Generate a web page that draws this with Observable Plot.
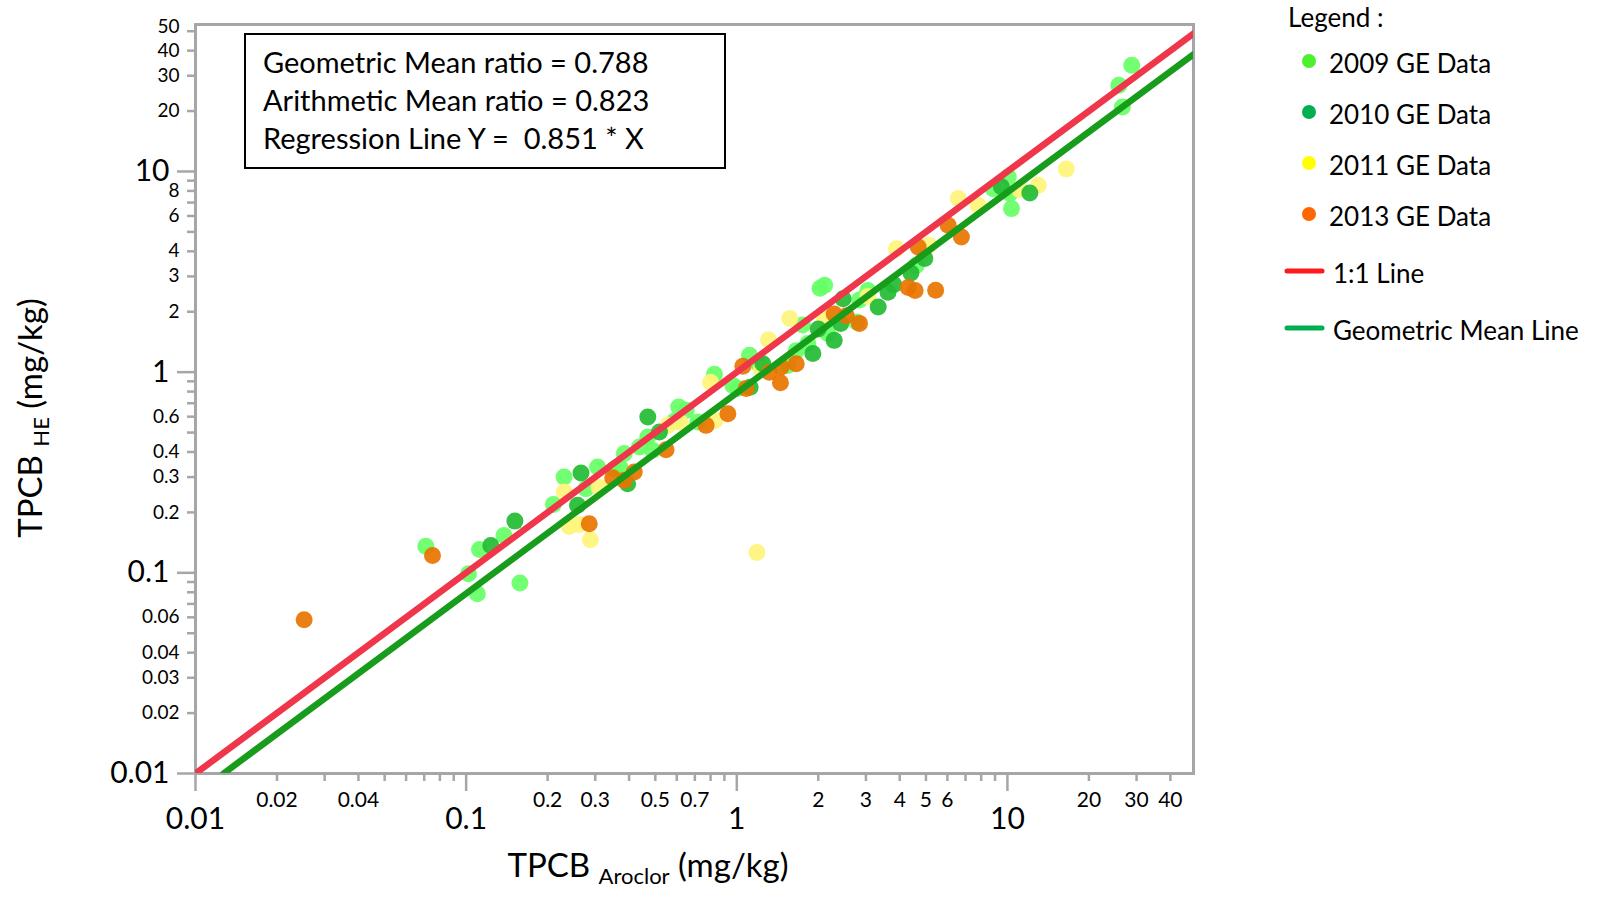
<!DOCTYPE html>
<html><head><meta charset="utf-8">
<script src="https://cdn.jsdelivr.net/npm/d3@7"></script>
<script src="https://cdn.jsdelivr.net/npm/@observablehq/plot@0.6"></script>
<style>
html,body{margin:0;padding:0;background:#fff;}
#chart{position:relative;width:1597px;height:899px;}
</style></head><body><div id="chart"></div>
<script>
// ---- data (mg/kg) ----
const x2009 = [0.071, 0.102, 0.110, 0.112, 0.138, 0.158, 0.210, 0.230, 0.277, 0.306, 0.353, 0.370, 0.384, 0.437, 0.469, 0.489, 0.588, 0.61, 0.65, 0.718, 0.827, 0.967, 1.01, 1.114, 1.20, 1.544, 1.66, 1.75, 1.83, 2.03, 2.112, 2.17, 2.77, 2.84, 3.05, 4.6, 8.86, 10.07, 10.2, 10.35, 25.8, 26.6, 28.8];
const y2009 = [0.1355, 0.099, 0.0787, 0.1308, 0.1536, 0.0889, 0.219, 0.300, 0.2626, 0.3365, 0.33, 0.336, 0.393, 0.4236, 0.475, 0.408, 0.57, 0.67, 0.645, 0.564, 0.975, 0.859, 0.83, 1.213, 1.10, 1.08, 1.28, 1.72, 1.39, 2.62, 2.71, 1.56, 1.78, 2.29, 2.55, 3.4, 8.21, 9.39, 7.77, 6.53, 26.9, 20.97, 33.8];
const x2010 = [0.1234, 0.1514, 0.258, 0.2657, 0.395, 0.469, 0.518, 1.12, 1.249, 1.91, 2.0, 2.29, 2.42, 2.47, 3.33, 3.62, 3.8, 4.4, 4.95, 9.5, 12.1];
const y2010 = [0.137, 0.181, 0.217, 0.314, 0.278, 0.597, 0.503, 0.84, 1.10, 1.24, 1.64, 1.44, 1.75, 2.32, 2.11, 2.5, 2.73, 3.12, 3.68, 8.4, 7.82];
const x2011 = [0.2305, 0.2405, 0.262, 0.2876, 0.31, 0.556, 0.62, 0.80, 0.83, 1.187, 1.23, 1.31, 1.57, 2.11, 3.05, 3.89, 5.13, 6.58, 7.8, 11.1, 13.0, 16.5];
const y2011 = [0.2527, 0.1703, 0.1743, 0.1462, 0.267, 0.543, 0.56, 0.89, 0.575, 0.1264, 1.03, 1.45, 1.85, 1.83, 2.38, 4.12, 4.29, 7.33, 6.78, 8.1, 8.53, 10.3];
const x2013 = [0.0252, 0.0751, 0.285, 0.348, 0.384, 0.418, 0.548, 0.77, 0.927, 1.053, 1.083, 1.32, 1.46, 1.45, 1.658, 2.29, 2.54, 2.84, 4.30, 4.56, 5.43, 4.68, 6.04, 6.76];
const y2013 = [0.0584, 0.122, 0.1757, 0.298, 0.289, 0.318, 0.411, 0.543, 0.62, 1.069, 0.828, 1.0, 1.06, 0.886, 1.10, 1.95, 1.91, 1.75, 2.64, 2.55, 2.56, 4.2, 5.39, 4.72];

const seriesNames = ["2009 GE Data", "2010 GE Data", "2011 GE Data", "2013 GE Data"];
const lineNames = ["1:1 Line", "Geometric Mean Line"];
const geoMeanRatio = 0.788;
const arithMeanRatio = 0.823;
const regressionSlope = 0.851;
const statLines = ["Geometric Mean ratio = 0.788", "Arithmetic Mean ratio = 0.823", "Regression Line Y =  0.851 * X"];

// ---- axis settings ----
const xDomain = [0.01, 48.7];
const yDomain = [0.01, 54];
const xMajorTicks = [0.01, 0.1, 1, 10];
const xMinorLabels = [0.02, 0.04, 0.2, 0.3, 0.5, 0.7, 2, 3, 4, 5, 6, 20, 30, 40];
const xMinorTicks = [0.02,0.03,0.04,0.05,0.06,0.07,0.08,0.09,0.2,0.3,0.4,0.5,0.6,0.7,0.8,0.9,2,3,4,5,6,7,8,9,20,30,40];
const yMajorTicks = [0.01, 0.1, 1, 10];
const yMinorLabels = [0.02, 0.03, 0.04, 0.06, 0.2, 0.3, 0.4, 0.6, 2, 3, 4, 6, 8, 20, 30, 40];
const yTopLabel = [50];
const yMinorTicks = [0.02,0.03,0.04,0.05,0.06,0.07,0.08,0.09,0.2,0.3,0.4,0.5,0.6,0.7,0.8,0.9,2,3,4,5,6,7,8,9,20,30,40,50];

// ---- styles ----
const pointColors = ["#66ff66", "#22bb33", "#fff47a", "#e87400"];
const legendDotColors = ["#4cf02e", "#00b050", "#ffff00", "#ff6600"];
const lineColors = ["#ef364a", "#179c1b"];
const legendLineColors = ["#ff1a1a", "#00b050"];
const axisGray = "#a6a6a6";
const FONT = "Lato, 'Open Sans', sans-serif";

const points = [];
[[x2009, y2009], [x2010, y2010], [x2011, y2011], [x2013, y2013]].forEach(([xs, ys], i) => {
  xs.forEach((v, j) => points.push({x: v, y: ys[j], s: seriesNames[i], c: pointColors[i]}));
});
const drawOrder = [0, 2, 1, 3];
const ordered = drawOrder.flatMap(i => points.filter(p => p.s === seriesNames[i]));

const oneToOne = [{x: xDomain[0], y: xDomain[0]}, {x: xDomain[1], y: xDomain[1]}];
const gmStart = yDomain[0] / geoMeanRatio;
const gmLine = [{x: gmStart, y: gmStart * geoMeanRatio}, {x: xDomain[1], y: xDomain[1] * geoMeanRatio}];

const tickStyle = {stroke: axisGray, strokeWidth: 2.5, label: null, tickFormat: () => ""};
const lbl = d => String(d);
const yLblStyle = {y: d => d, text: lbl, frameAnchor: "left", dx: -16, textAnchor: "end", lineAnchor: "middle", fontSize: 19, fill: "black"};
const svg = Plot.plot({
  width: 1597, height: 899,
  marginLeft: 195, marginRight: 404, marginTop: 24, marginBottom: 126,
  style: {fontFamily: FONT, background: "white", color: "black"},
  x: {type: "log", domain: xDomain},
  y: {type: "log", domain: yDomain},
  marks: [
    Plot.axisX(xMinorTicks, {...tickStyle, tickSize: 8}),
    Plot.axisX(xMajorTicks, {...tickStyle, tickSize: 18}),
    Plot.axisY(yMinorTicks, {...tickStyle, tickSize: 8}),
    Plot.axisY(yMajorTicks, {...tickStyle, tickSize: 18}),
    Plot.text(xMinorLabels, {x: d => d, text: lbl, frameAnchor: "bottom", dy: 27, lineAnchor: "middle", fontSize: 21, fill: "black"}),
    Plot.text(xMajorTicks, {x: d => d, text: lbl, frameAnchor: "bottom", dy: 46, lineAnchor: "middle", fontSize: 30, fill: "black"}),
    Plot.text(yMinorLabels, yLblStyle),
    Plot.text(yTopLabel, {...yLblStyle, dy: -4}),
    Plot.text(yMajorTicks, {y: d => d, text: lbl, frameAnchor: "left", dx: -26, textAnchor: "end", lineAnchor: "middle", fontSize: 30, fill: "black"}),
    Plot.frame({stroke: axisGray, strokeWidth: 3}),
    Plot.dot(ordered, {x: "x", y: "y", fill: "c", r: 8.5, fillOpacity: 0.92}),
    Plot.line(oneToOne, {x: "x", y: "y", stroke: lineColors[0], strokeWidth: 6.5, clip: true}),
    Plot.line(gmLine, {x: "x", y: "y", stroke: lineColors[1], strokeWidth: 6.5, clip: true})
  ]
});
document.getElementById("chart").appendChild(svg);

const s = d3.select(svg);
// stats box
s.append("rect").attr("x", 245).attr("y", 34).attr("width", 480).attr("height", 134)
  .attr("fill", "white").attr("stroke", "black").attr("stroke-width", 2);
statLines.forEach((t, i) => {
  s.append("text").attr("x", 263).attr("y", 73 + i * 38).attr("text-anchor", "start").attr("font-family", FONT)
    .attr("font-size", 29).attr("fill", "black").text(t);
});
// legend
s.append("text").attr("x", 1288).attr("y", 27).attr("text-anchor", "start").attr("font-family", FONT).attr("font-size", 26).attr("fill", "black").text("Legend :");
seriesNames.forEach((n, i) => {
  const cy = [61, 112, 163, 214][i];
  s.append("circle").attr("cx", 1309).attr("cy", cy).attr("r", 7).attr("fill", legendDotColors[i]);
  s.append("text").attr("x", 1329).attr("y", cy + 12).attr("text-anchor", "start").attr("font-family", FONT).attr("font-size", 26).attr("fill", "black").text(n);
});
lineNames.forEach((n, i) => {
  const cy = [271, 328][i];
  s.append("line").attr("x1", 1287).attr("x2", 1322).attr("y1", cy).attr("y2", cy)
    .attr("stroke", legendLineColors[i]).attr("stroke-width", 5).attr("stroke-linecap", "round");
  s.append("text").attr("x", 1333).attr("y", cy + 12).attr("text-anchor", "start").attr("font-family", FONT).attr("font-size", 26).attr("fill", "black").text(n);
});
// axis titles
const xt = s.append("text").attr("x", 648).attr("y", 877).attr("text-anchor", "middle")
  .attr("font-family", FONT).attr("font-size", 33).attr("fill", "black");
xt.append("tspan").text("TPCB ");
xt.append("tspan").attr("font-size", 22).attr("dy", 7).text("Aroclor");
xt.append("tspan").attr("dy", -7).text(" (mg/kg)");
const yt = s.append("text").attr("transform", "translate(42,418) rotate(-90)").attr("text-anchor", "middle")
  .attr("font-family", FONT).attr("font-size", 33).attr("fill", "black");
yt.append("tspan").text("TPCB ");
yt.append("tspan").attr("font-size", 22).attr("dy", 7).text("HE");
yt.append("tspan").attr("dy", -7).text(" (mg/kg)");
</script></body></html>
